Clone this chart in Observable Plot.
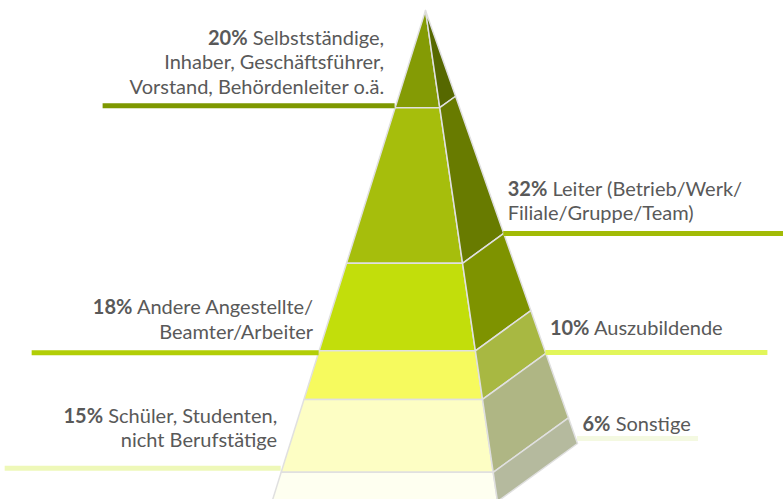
<!DOCTYPE html>
<html>
<head>
<meta charset="utf-8">
<script src="https://cdn.jsdelivr.net/npm/d3@7"></script>
<script src="https://cdn.jsdelivr.net/npm/@observablehq/plot@0.6"></script>
<style>
  html, body { margin: 0; padding: 0; background: #ffffff; }
  #chart svg { display: block; }
</style>
</head>
<body>
<div id="chart"></div>
<script>
// ---- data ----
const categories = [
  "Selbstständige,\nInhaber, Geschäftsführer,\nVorstand, Behördenleiter o.ä.",
  "Leiter (Betrieb/Werk/\nFiliale/Gruppe/Team)",
  "Andere Angestellte/\nBeamter/Arbeiter",
  "Auszubildende",
  "Schüler, Studenten,\nnicht Berufstätige",
  "Sonstige"
];
const shares = [20, 32, 18, 10, 15, 6];
const labelSide = ["left", "right", "left", "right", "left", "right"];

// ---- styles ----
const frontColors  = ["#849b05", "#a6be0c", "#c2de0b", "#f6fa5e", "#fdfec4", "#fefff0"];
const sideColors   = ["#566800", "#687b00", "#7e9300", "#a8b842", "#afb684", "#b5ba9e"];
const leaderColors = ["#7e9800", "#a2bb06", "#b2ce06", "#e2f65a", "#eef8b8", "#f4f9e1"];

// ---- layout (pixels, offsets from the pyramid edge) ----
const textDx       = [-11, 4, -6, 4, -4, 5];
const textDy       = [-14, -13, -12, -18, -25, -13];
const leaderDy     = [-2, 0, 2, -1, -4, -5];
const leaderLength = [292, 280, 287, 222, 276, 121];

const W = 783, H = 499;
const apexX = 425, apexY = 10, pyrHeight = 491;
// pyramid edge slopes (x per unit of depth), side edge direction
const FL = -0.3125, FR = 0.1466, BRx = 0.3096, BRy = 0.8819;

const total = d3.sum(shares);
const ends = Array.from(d3.cumsum(shares));
const starts = ends.map((c, i) => c - shares[i]);
const k = pyrHeight / total; // px per unit

// polygons
const polys = [];
shares.forEach((s, i) => {
  const a = starts[i], b = ends[i];
  const front = [[FL * a, a], [FR * a, a], [FR * b, b], [FL * b, b], [FL * a, a]];
  const side = [[FR * a, a], [BRx * a, BRy * a], [BRx * b, BRy * b], [FR * b, b], [FR * a, a]];
  front.forEach(([x, y]) => polys.push({id: "f" + i, x, y, fill: frontColors[i]}));
  side.forEach(([x, y]) => polys.push({id: "s" + i, x, y, fill: sideColors[i]}));
});

// leaders and labels
const leaders = [], labels = [];
shares.forEach((s, i) => {
  const c = ends[i];
  let ex, ey;
  if (labelSide[i] === "left") { ex = FL * c; ey = c; }
  else { ex = BRx * c; ey = BRy * c; }
  const ly = ey + leaderDy[i] / k;
  if (labelSide[i] === "left") {
    leaders.push({y: ly, x1: ex - leaderLength[i] / k, x2: ex, color: leaderColors[i]});
  } else {
    leaders.push({y: ly, x1: ex, x2: ex + leaderLength[i] / k, color: leaderColors[i]});
  }
  labels.push({
    side: labelSide[i],
    x: ex + textDx[i] / k,
    y: ey + textDy[i] / k,
    text: `${s}% ${categories[i]}`
  });
});

const textOpts = {
  x: "x", y: "y", text: "text",
  fontSize: 20, lineHeight: 1.22, lineAnchor: "bottom",
  fill: "#595959", fontFamily: "Lato"
};

const chart = Plot.plot({
  width: W, height: H,
  marginTop: 0, marginRight: 0, marginBottom: 0, marginLeft: 0,
  x: {domain: [-apexX / k, (W - apexX) / k], range: [0, W], axis: null},
  y: {domain: [0, total], range: [apexY, apexY + pyrHeight], axis: null},
  color: {type: "identity"},
  style: {background: "#ffffff", fontFamily: "Lato", overflow: "hidden"},
  marks: [
    Plot.line(polys, {x: "x", y: "y", z: "id", fill: "fill", stroke: "#e0e0e0",
      strokeWidth: 1.5, strokeLinejoin: "round", curve: "linear"}),
    Plot.ruleY(leaders, {y: "y", x1: "x1", x2: "x2", stroke: "color", strokeWidth: 5}),
    Plot.text(labels.filter(d => d.side === "left"), {...textOpts, textAnchor: "end"}),
    Plot.text(labels.filter(d => d.side === "right"), {...textOpts, textAnchor: "start"})
  ]
});

// make the leading percentage bold (kept as real text)
chart.querySelectorAll("text, tspan").forEach(el => {
  const first = el.firstChild;
  if (!first || first.nodeType !== 3) return;
  const m = first.nodeValue.match(/^(\d+%)(\s.*)$/);
  if (!m) return;
  const b = document.createElementNS("http://www.w3.org/2000/svg", "tspan");
  b.setAttribute("font-weight", "700");
  b.textContent = m[1];
  first.nodeValue = m[2];
  el.insertBefore(b, first);
});

document.getElementById("chart").append(chart);
</script>
</body>
</html>
